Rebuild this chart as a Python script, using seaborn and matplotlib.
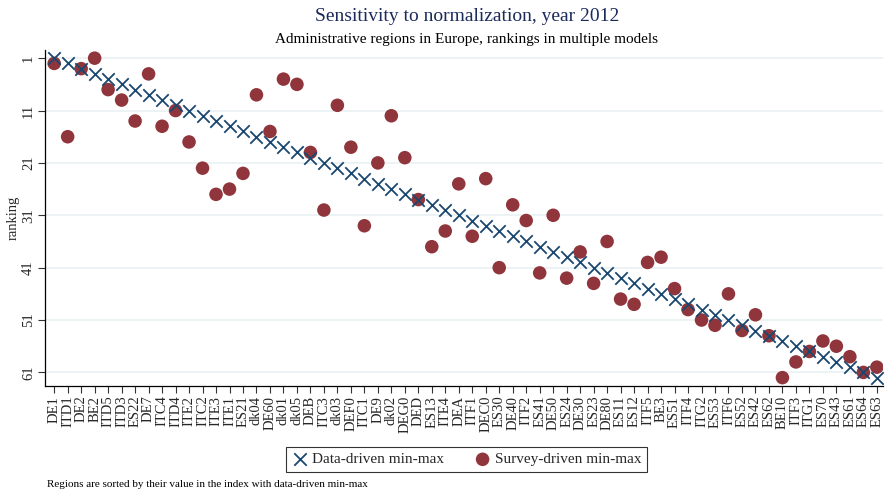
import matplotlib
matplotlib.use("Agg")
import matplotlib.pyplot as plt
import seaborn as sns
import pandas as pd
import numpy as np

# Regions in order of their rank in the data-driven min-max index
regions = ["DE1", "ITD1", "DE2", "BE2", "ITD5", "ITD3", "ES22", "DE7", "ITC4", "ITD4",
           "ITE2", "ITC2", "ITE3", "ITE1", "ES21", "dk04", "DE60", "dk01", "dk05", "DEB",
           "ITC3", "dk03", "DEF0", "ITC1", "DE9", "dk02", "DEG0", "DED", "ES13", "ITE4",
           "DEA", "ITF1", "DEC0", "ES30", "DE40", "ITF2", "ES41", "DE50", "ES24", "DE30",
           "ES23", "DE80", "ES11", "ES12", "ITF5", "BE3", "ES51", "ITF4", "ITG2", "ES53",
           "ITF6", "ES52", "ES42", "ES62", "BE10", "ITF3", "ITG1", "ES70", "ES43", "ES61",
           "ES64", "ES63"]

# Rank of each region in the data-driven model
data_rank = list(range(1, len(regions) + 1))

# Rank of each region in the survey-driven model
survey_rank = [2, 16, 3, 1, 7, 9, 13, 4, 14, 11,
               17, 22, 27, 26, 23, 8, 15, 5, 6, 19,
               30, 10, 18, 33, 21, 12, 20, 28, 37, 34,
               25, 35, 24, 41, 29, 32, 42, 31, 43, 38,
               44, 36, 47, 48, 40, 39, 45, 49, 51, 52,
               46, 53, 50, 54, 62, 59, 57, 55, 56, 58,
               61, 60]

y_ticks = [1, 11, 21, 31, 41, 51, 61]

navy = "#1a476f"
maroon = "#90353b"
grid_col = "#eaf2f3"

df = pd.DataFrame({"pos": data_rank, "region": regions,
                   "data": data_rank, "survey": survey_rank})

sns.set_theme(style="white")
plt.rcParams["font.family"] = ["Liberation Serif", "DejaVu Serif"]

fig = plt.figure(figsize=(8.86, 4.93), dpi=100)
ax = fig.add_axes([0.0505, 0.217, 0.946, 0.682])

for yt in y_ticks:
    ax.axhline(yt, color=grid_col, lw=1.3, zorder=0)

sns.scatterplot(data=df, x="pos", y="survey", ax=ax, marker="o", s=95,
                color=maroon, edgecolor="none", zorder=3,
                label="Survey-driven min-max")
sns.scatterplot(data=df, x="pos", y="data", ax=ax, marker="x", s=80,
                color=navy, linewidth=1.3, zorder=4,
                label="Data-driven min-max")

ax.set_xlim(0.3, 62.45)
ax.set_ylim(63.6, -0.6)

ax.set_xticks(df["pos"])
ax.set_xticklabels(df["region"], rotation=90, fontsize=10.5)
ax.set_yticks(y_ticks)
ax.set_yticklabels([str(v) for v in y_ticks], rotation=90, fontsize=10.5,
                   va="center")
ax.tick_params(axis="both", direction="out", length=5, width=0.8,
               color="#333333", pad=2, bottom=True, left=True)

ax.set_xlabel("")
ax.set_ylabel("ranking", fontsize=10.5, labelpad=2)

for side in ["top", "right"]:
    ax.spines[side].set_visible(False)
for side in ["left", "bottom"]:
    ax.spines[side].set_color("#000000")
    ax.spines[side].set_linewidth(0.9)

handles, labels = ax.get_legend_handles_labels()
order = [labels.index("Data-driven min-max"), labels.index("Survey-driven min-max")]
leg = fig.legend([handles[i] for i in order], [labels[i] for i in order],
                 loc="center", bbox_to_anchor=(0.527, 0.068), ncol=2,
                 frameon=True, fancybox=False, fontsize=11, handletextpad=0.3,
                 columnspacing=2.0, borderpad=0.4, handlelength=1.0)
leg.get_frame().set_edgecolor("#000000")
leg.get_frame().set_linewidth(0.8)
if ax.get_legend():
    ax.get_legend().remove()

fig.text(0.527, 0.967, "Sensitivity to normalization, year 2012", ha="center",
         va="center", fontsize=14, color="#1a2a5a")
fig.text(0.527, 0.920, "Administrative regions in Europe, rankings in multiple models",
         ha="center", va="center", fontsize=11, color="#000000")
fig.text(0.053, 0.018, "Regions are sorted by their value in the index with data-driven min-max",
         ha="left", va="center", fontsize=8, color="#000000")

fig.savefig("out.png", dpi=100, facecolor="white")
